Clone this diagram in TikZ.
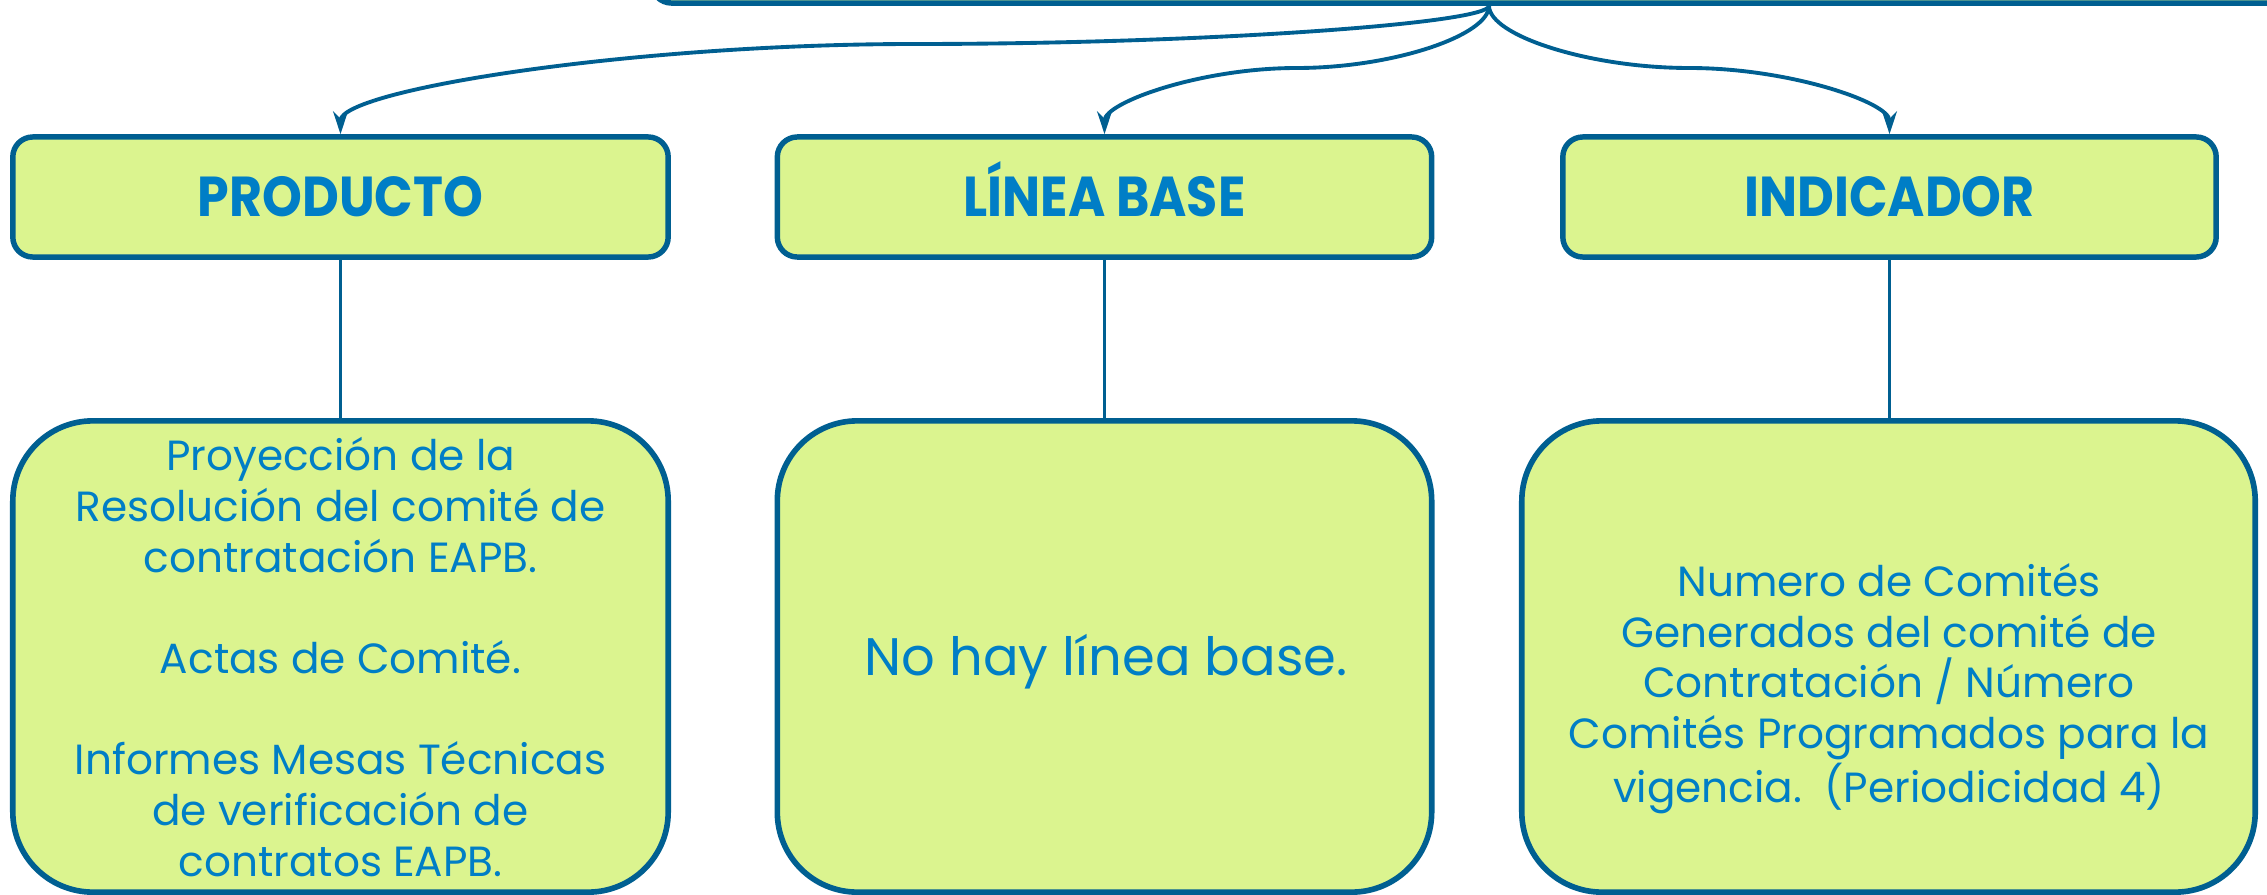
\documentclass[tikz,border=0pt]{standalone}
\usepackage{fontspec}
\setmainfont{Poppins}
\newfontfamily\hdrfont{Poppins}[FakeStretch=0.9]
\usetikzlibrary{arrows.meta}
\definecolor{boxfill}{RGB}{219,244,143}
\definecolor{boxline}{RGB}{0,95,145}
\definecolor{txtblue}{RGB}{0,126,198}
\begin{document}
\begin{tikzpicture}[x=0.01cm,y=-0.01cm,
 hdr/.style={draw=boxline,line width=1.55pt,fill=boxfill,rounded corners=0.2cm,minimum height=1.2cm,inner sep=0pt,text height=11.2pt,text depth=0pt,font=\hdrfont\bfseries\fontsize{16}{19}\selectfont,text=txtblue},
 body/.style={draw=boxline,line width=1.6pt,fill=boxfill,rounded corners=0.8cm,minimum height=4.71cm,inner sep=0pt},
 btext/.style={align=center,text=txtblue,font=\fontsize{12}{14.4}\selectfont,inner sep=0pt},
 conn/.style={draw=boxline,line width=1.1pt,-{Stealth[length=6.5pt,width=4.2pt]}},
 link/.style={draw=boxline,line width=1.1pt}]
\useasboundingbox (0,0) rectangle (2267,894);
% top (cut-off) box
\node[draw=boxline,line width=1.55pt,fill=boxfill,rounded corners=0.2cm,minimum width=16.74cm,minimum height=2cm,inner sep=0pt] (top) at (1489,-97) {};
% header boxes
\node[hdr,minimum width=6.55cm] (h1) at (340.5,197) {PRODUCTO};
\node[hdr,minimum width=6.54cm] (h2) at (1104.5,197) {LÍNEA BASE};
\node[hdr,minimum width=6.53cm] (h3) at (1889.5,197) {INDICADOR};
% body boxes
\node[body,minimum width=6.55cm] (b1) at (340.5,656.5) {};
\node[body,minimum width=6.54cm] (b2) at (1104.5,656.5) {};
\node[body,minimum width=7.33cm] (b3) at (1888.5,656.5) {};
% body texts
\node[btext] (t1) at (340.5,657) {Proyección de la\\Resolución del comité de\\contratación EAPB.\\[14.4pt]Actas de Comité.\\[14.4pt]Informes Mesas Técnicas\\de verificación de\\contratos EAPB.};
\node[btext,font=\fontsize{15}{18}\selectfont] (t2) at (1106,662) {No hay línea base.};
\node[btext] (t3) at (1889,689) {Numero de Comités\\Generados del comité de\\Contratación / Número\\Comités Programados para la\\vigencia.\ \ (Periodicidad 4)};
% connectors
\draw[conn] (top.south) .. controls (1489,23.5) and (1201.9,44) .. (914.75,44) .. controls (627.6,44) and (340.5,90.5) .. (h1.north);
\draw[conn] (top.south) .. controls (1489,35.5) and (1392.5,68) .. (1296.75,68) .. controls (1200.6,68) and (1104.5,102.5) .. (h2.north);
\draw[conn] (top.south) .. controls (1489,35.5) and (1589.1,68) .. (1689.25,68) .. controls (1789.4,68) and (1889.5,102.5) .. (h3.north);
\draw[link] (h1.south) -- (b1.north);
\draw[link] (h2.south) -- (b2.north);
\draw[link] (h3.south) -- (h3.south |- b3.north);
\end{tikzpicture}
\end{document}
